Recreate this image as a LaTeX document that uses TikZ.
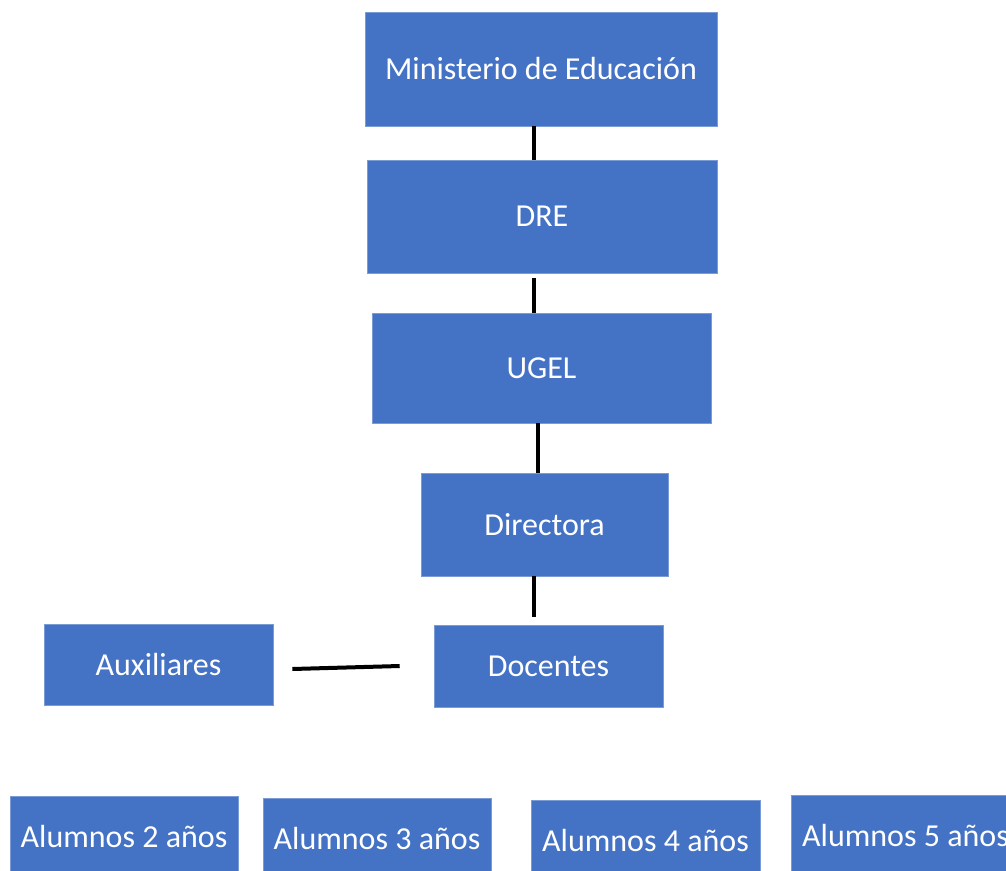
\documentclass[tikz,border=0pt]{standalone}
\usepackage{fontspec}
\setmainfont{Carlito}
\definecolor{boxblue}{HTML}{4472C4}
\definecolor{boxedge}{HTML}{7B9BD6}
\begin{document}
\begin{tikzpicture}[x=1pt,y=-1pt,
  orgbox/.style={rectangle,fill=boxblue,draw=boxedge,line width=0.6pt,text=white,inner sep=0pt,
    font=\fontsize{32}{38}\selectfont},
  link/.style={draw=black,line width=4pt}]
\useasboundingbox (0,0) rectangle (1006,870);
\clip (0,0) rectangle (1006,870);
\node[orgbox,minimum width=352pt,minimum height=114pt] (min) at (541,69) {Ministerio de Educación};
\node[orgbox,minimum width=350pt,minimum height=113pt] (dre) at (542,216.5) {DRE};
\node[orgbox,minimum width=339pt,minimum height=110pt] (ugel) at (541.5,368) {UGEL};
\node[orgbox,minimum width=247pt,minimum height=103pt] (dir) at (544.5,524.5) {Directora};
\node[orgbox,minimum width=229pt,minimum height=82pt] (doc) at (548.5,666) {Docentes};
\node[orgbox,minimum width=229pt,minimum height=81pt] (aux) at (158.5,664.5) {Auxiliares};
\node[orgbox,minimum width=228pt,minimum height=80pt] (a2) at (124,836) {Alumnos 2 años};
\node[orgbox,minimum width=228pt,minimum height=80pt] (a3) at (377,838) {Alumnos 3 años};
\node[orgbox,minimum width=229pt,minimum height=80pt] (a4) at (645.5,840) {Alumnos 4 años};
\node[orgbox,minimum width=229pt,minimum height=80pt] (a5) at (905.5,835) {Alumnos 5 años};
\draw[link] ([xshift=-7pt]min.south) -- ([xshift=-8pt]dre.north);
\draw[link] ([xshift=-8pt,yshift=-5pt]dre.south) -- ([xshift=-7.5pt]ugel.north);
\draw[link] ([xshift=-3.5pt]ugel.south) -- ([xshift=-6.5pt]dir.north);
\draw[link] ([xshift=-10.5pt]dir.south) -- ([xshift=-14.5pt,yshift=8pt]doc.north);
\draw[link] ([xshift=19pt,yshift=-4.5pt]aux.east) -- ([xshift=-34pt]doc.west);
\end{tikzpicture}
\end{document}
